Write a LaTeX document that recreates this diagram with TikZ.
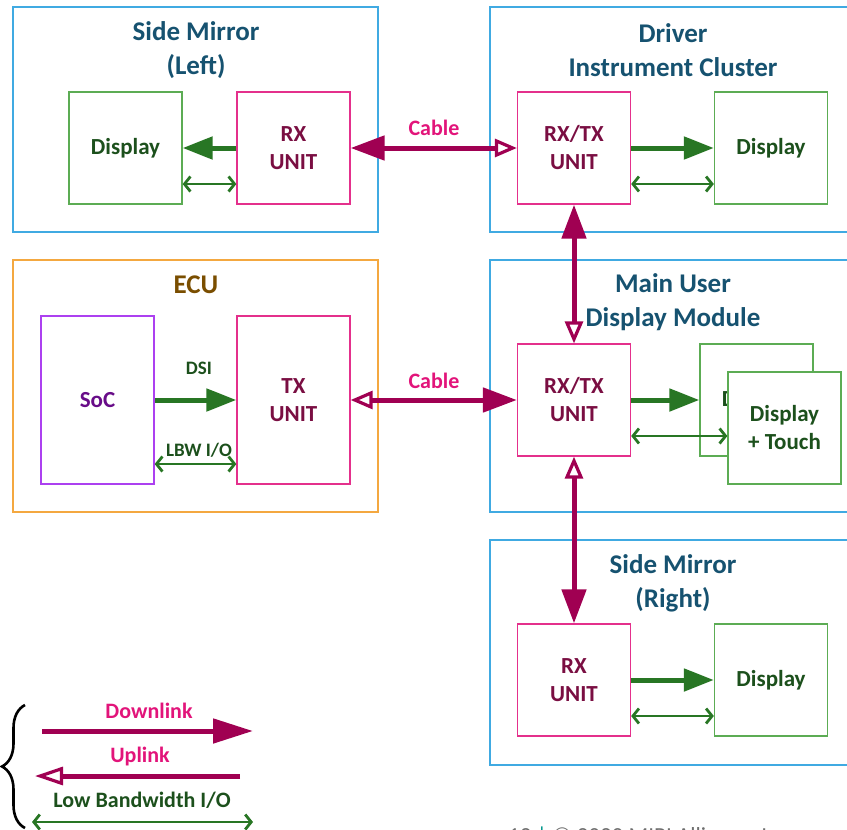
\documentclass[tikz,border=0pt]{standalone}
\usepackage{fontspec}
\setmainfont{Carlito}
\usetikzlibrary{arrows.meta,decorations.pathreplacing}

\definecolor{frameblue}{RGB}{64,170,226}
\definecolor{titleblue}{RGB}{22,82,112}
\definecolor{unitpink}{RGB}{228,48,140}
\definecolor{unittext}{RGB}{122,14,66}
\definecolor{dispgreen}{RGB}{92,172,84}
\definecolor{disptext}{RGB}{28,80,28}
\definecolor{linkgreen}{RGB}{40,118,36}
\definecolor{cablecol}{RGB}{160,0,82}
\definecolor{cabletext}{RGB}{226,20,122}
\definecolor{ecuorange}{RGB}{244,168,64}
\definecolor{ecutext}{RGB}{122,78,0}
\definecolor{socpurple}{RGB}{172,64,240}
\definecolor{soctext}{RGB}{104,12,136}
\definecolor{footgray}{RGB}{110,110,110}
\definecolor{footteal}{RGB}{0,150,140}

\tikzset{
  frame/.style={draw=frameblue, line width=1.4pt, rectangle, inner sep=0pt},
  ecuframe/.style={draw=ecuorange, line width=1.4pt, rectangle, inner sep=0pt},
  unit/.style={draw=unitpink, line width=1.3pt, rectangle, fill=white,
    minimum width=113pt, minimum height=112pt, inner sep=0pt, align=center,
    text=unittext, font=\fontsize{23}{28}\selectfont\bfseries},
  disp/.style={draw=dispgreen, line width=1.3pt, rectangle, fill=white,
    minimum width=113pt, minimum height=112pt, inner sep=0pt, align=center,
    text=disptext, font=\fontsize{23}{28}\selectfont\bfseries},
  soc/.style={draw=socpurple, line width=1.3pt, rectangle,
    minimum width=113pt, minimum height=168pt, inner sep=0pt,
    text=soctext, font=\fontsize{23}{28}\selectfont\bfseries},
  title/.style={text=titleblue, align=center, inner sep=0pt,
    font=\fontsize{27}{34}\selectfont\bfseries},
  cablelabel/.style={text=cabletext, inner sep=0pt,
    font=\fontsize{22}{26}\selectfont\bfseries},
  smalllabel/.style={text=disptext, inner sep=0pt,
    font=\fontsize{19}{22}\selectfont\bfseries},
  legendlabel/.style={inner sep=0pt, font=\fontsize{22}{26}\selectfont\bfseries},
  cable/.style={draw=cablecol, line width=5pt},
  videolink/.style={draw=linkgreen, line width=5pt,
    -{Triangle[length=30pt,width=22pt]}},
  lbw/.style={draw=linkgreen, line width=2.8pt,
    {Straight Barb[length=6pt,width=15pt]}-{Straight Barb[length=6pt,width=15pt]}},
  fullhead/.tip={Triangle[length=34pt,width=24pt]},
  openhead/.tip={Triangle[open,length=22pt,width=18pt,line width=3.2pt]},
}

\begin{document}
\begin{tikzpicture}[x=1pt,y=-1pt]
\useasboundingbox (0,0) rectangle (847,830);
\clip (0,0) rectangle (847,830);

% ---- outer modules ----
\node[frame, minimum width=365pt, minimum height=225pt] (smL) at (195.5,119.5) {};
\node[frame, minimum width=380pt, minimum height=225pt] (dic) at (680,119.5) {};
\node[ecuframe, minimum width=365pt, minimum height=252pt] (ecu) at (195.5,386) {};
\node[frame, minimum width=380pt, minimum height=252pt] (mud) at (680,386) {};
\node[frame, minimum width=380pt, minimum height=225pt] (smR) at (680,652.5) {};

% ---- module titles ----
\node[title] (smLt) at (196,50) {Side Mirror\\(Left)};
\node[title] (dict) at (673,50) {Driver\\Instrument Cluster};
\node[title, text=ecutext] (ecut) at (196,285) {ECU};
\node[title] (mudt) at (673,302) {Main User\\Display Module};
\node[title] (smRt) at (673,583) {Side Mirror\\(Right)};

% ---- side mirror (left) ----
\node[disp] (dispL) at (125.5,148) {Display};
\node[unit] (rxL) at (293.5,148) {RX\\UNIT};

% ---- driver instrument cluster ----
\node[unit] (rxtxD) at (574,148) {RX/TX\\UNIT};
\node[disp] (dispD) at (771,148) {Display};

% ---- ECU ----
\node[soc] (soc) at (97.5,400) {SoC};
\node[unit, minimum height=168pt] (tx) at (293.5,400) {TX\\UNIT};

% ---- main user display module ----
\node[unit] (rxtxM) at (574,400) {RX/TX\\UNIT};
\node[disp] (dispM) at (756.5,400) {Display};
\node[disp] (touchM) at (784.5,428) {Display\\+ Touch};

% ---- side mirror (right) ----
\node[unit] (rxR) at (574,680) {RX\\UNIT};
\node[disp] (dispR) at (771,680) {Display};

% ---- video links inside modules ----
\draw[videolink] (rxL.west) -- (dispL.east);
\draw[lbw] ([yshift=-36pt]dispL.east) -- ([yshift=-36pt]rxL.west);
\draw[videolink] (rxtxD.east) -- (dispD.west);
\draw[lbw] ([yshift=-36pt]rxtxD.east) -- ([yshift=-36pt]dispD.west);
\draw[videolink] (soc.east) -- (tx.west);
\node[smalllabel] (dsi) at (199,368) {DSI};
\draw[lbw] ([yshift=-64pt]soc.east) -- ([yshift=-64pt]tx.west);
\node[smalllabel] (lbwio) at (199,450) {LBW I/O};
\draw[videolink] (rxtxM.east) -- (dispM.west);
\draw[lbw] ([yshift=-36pt]rxtxM.east) -- ([yshift=-8pt]touchM.west);
\draw[videolink] (rxR.east) -- (dispR.west);
\draw[lbw] ([yshift=-36pt]rxR.east) -- ([yshift=-36pt]dispR.west);

% ---- cables between modules ----
\draw[cable, fullhead-openhead] (rxL.east) -- (rxtxD.west);
\node[cablelabel] (cab1) at (434,128) {Cable};
\draw[cable, openhead-fullhead] (tx.east) -- (rxtxM.west);
\node[cablelabel] (cab2) at (434,381) {Cable};
\draw[cable, fullhead-openhead] (rxtxD.south) -- (rxtxM.north);
\draw[cable, openhead-fullhead] (rxtxM.south) -- (rxR.north);

% ---- legend ----
\draw[line width=2.6pt, decorate, decoration={brace, amplitude=23pt}]
  (25,828) -- (25,705);
\coordinate (dlA) at (42,731);
\coordinate (dlB) at (253,731);
\draw[cable, -{Triangle[length=40pt,width=24pt]}] (dlA) -- (dlB);
\node[legendlabel, text=cabletext] (dlt) at (149,711) {Downlink};
\coordinate (ulA) at (240,776);
\coordinate (ulB) at (35,776);
\draw[cable, -{Triangle[open,length=28pt,width=18pt,line width=3.2pt]}] (ulA) -- (ulB);
\node[legendlabel, text=cabletext] (ult) at (140,757) {Uplink};
\coordinate (lbA) at (32,822);
\coordinate (lbB) at (253,822);
\draw[lbw] (lbA) -- (lbB);
\node[legendlabel, text=disptext] (lbt) at (142,800) {Low Bandwidth I/O};

% ---- footer ----
\node[anchor=base west, inner sep=0pt, text=footgray,
  font=\fontsize{23}{26}\selectfont] (foot) at (508,843)
  {12 \textcolor{footteal}{|} © 2020 MIPI Alliance, Inc.};
\end{tikzpicture}
\end{document}
